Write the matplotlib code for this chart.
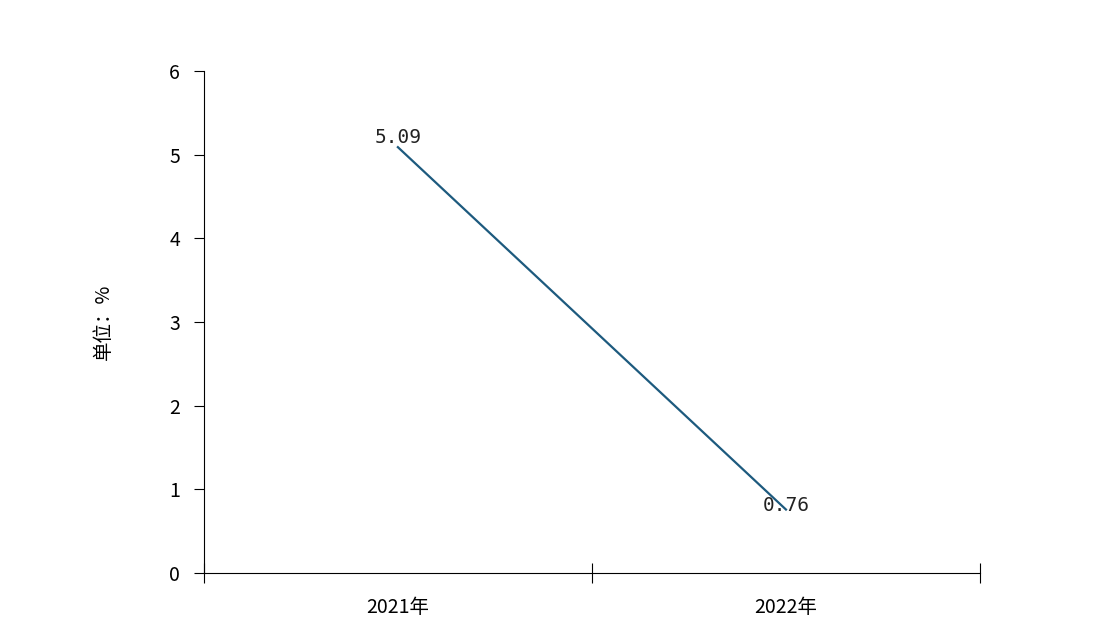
import matplotlib.pyplot as plt
from matplotlib.ticker import FixedLocator, NullFormatter

plt.rcParams['font.family'] = ['Noto Sans CJK SC', 'DejaVu Sans']

years = ["2021年", "2022年"]
values = [5.09, 0.76]

fig = plt.figure(figsize=(11.2, 6.34), dpi=100)
ax = fig.add_axes([0.182, 0.096, 0.693, 0.792])

xs = [0.5, 1.5]
ax.plot(xs, values, color="#1d5a7e", lw=1.6)
for x, v in zip(xs, values):
    ax.annotate(f"{v:.2f}", (x, v), xytext=(0, 0 if v > 2 else -4),
                textcoords="offset points", ha="center", va="bottom",
                fontsize=14, family="DejaVu Sans Mono", color="#222222")

ax.set_xlim(0, 2)
ax.set_ylim(0, 6)
ax.set_yticks(range(7))
ax.xaxis.set_major_locator(FixedLocator([0, 1, 2]))
ax.xaxis.set_major_formatter(NullFormatter())
ax.xaxis.set_minor_locator(FixedLocator(xs))
ax.set_xticklabels(years, minor=True)
ax.tick_params(axis="x", which="minor", length=0, pad=17, labelsize=14)
ax.tick_params(axis="x", which="major", length=14, direction="inout")
ax.tick_params(axis="y", length=7, labelsize=14, pad=10)
for s in ("top", "right"):
    ax.spines[s].set_visible(False)
ax.set_ylabel("单位：%", fontsize=14, labelpad=40)

fig.savefig("out.png", dpi=100)
